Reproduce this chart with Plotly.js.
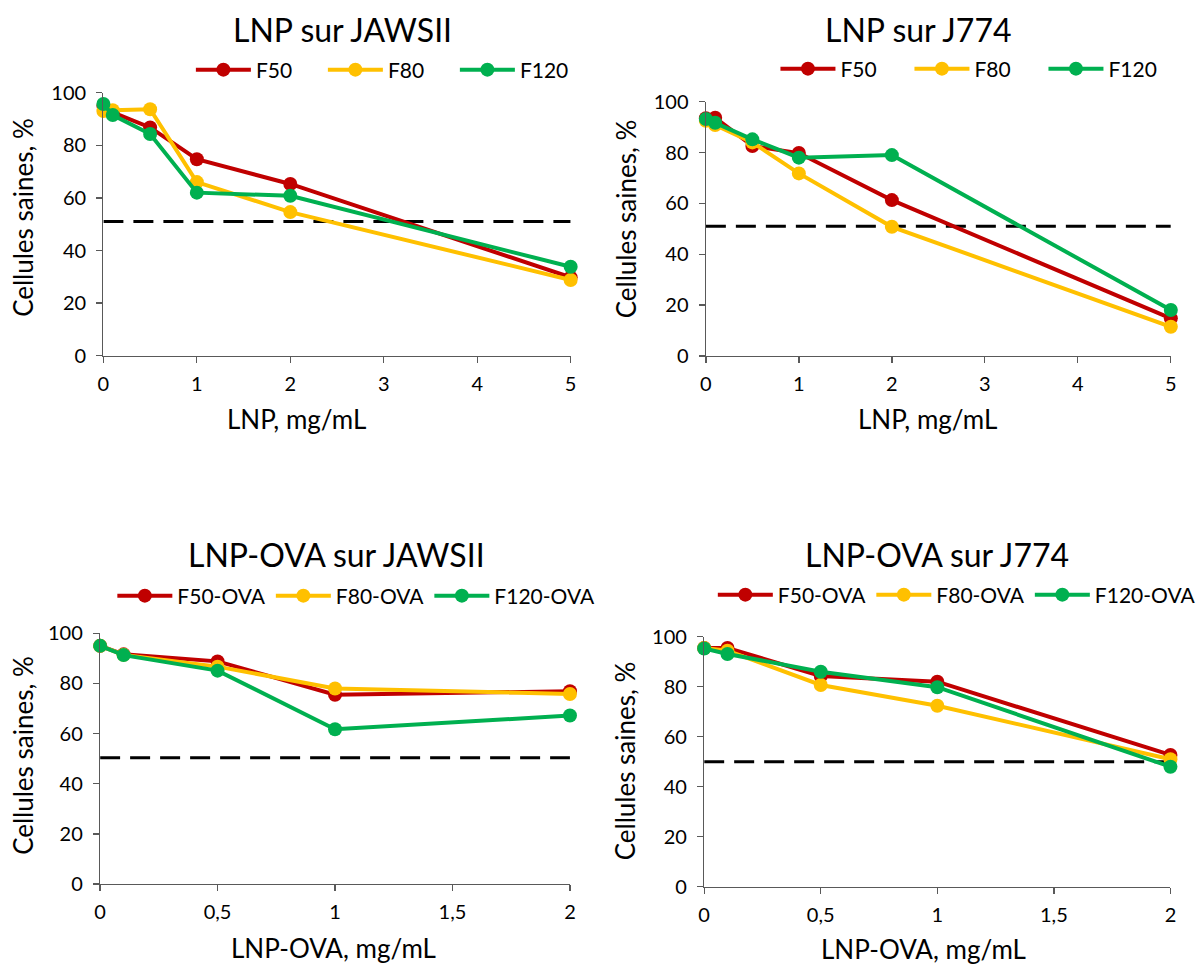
<!DOCTYPE html>
<html>
<head>
<meta charset="utf-8">
<script src="https://cdn.plot.ly/plotly-3.0.1.min.js"></script>
<style>html,body{margin:0;padding:0;background:#fff;}#chart{width:1201px;height:971px;}</style>
</head>
<body>
<div id="chart"></div>
<script>
// ---- Data ----
const xLNP = [0, 0.1, 0.5, 1, 2, 5];
const xOVA = [0, 0.1, 0.5, 1, 2];

const seriesNames = ["F50", "F80", "F120"];
const seriesNamesOVA = ["F50-OVA", "F80-OVA", "F120-OVA"];

// LNP sur JAWSII
const jaws_F50  = [95.0, 92.5, 86.8, 74.7, 65.3, 29.8];
const jaws_F80  = [93.0, 93.3, 93.7, 66.0, 54.6, 28.8];
const jaws_F120 = [95.7, 91.5, 84.3, 62.0, 60.8, 33.8];

// LNP sur J774
const j774_F50  = [93.5, 93.7, 82.6, 79.8, 61.3, 14.8];
const j774_F80  = [92.5, 90.8, 84.0, 71.8, 50.8, 11.5];
const j774_F120 = [93.2, 91.7, 85.2, 78.0, 79.0, 18.1];

// LNP-OVA sur JAWSII
const jawsOva_F50  = [95.0, 91.6, 88.8, 75.5, 76.9];
const jawsOva_F80  = [95.0, 91.4, 86.7, 78.0, 75.8];
const jawsOva_F120 = [95.0, 91.3, 85.1, 61.7, 67.2];

// LNP-OVA sur J774
const j774Ova_F50  = [95.5, 95.5, 84.3, 82.0, 52.7];
const j774Ova_F80  = [95.5, 94.4, 80.7, 72.4, 51.0];
const j774Ova_F120 = [95.3, 93.1, 86.0, 79.8, 48.0];

// 50% threshold lines
const thrX_LNP = [0, 5];
const thrX_OVA = [0, 2];
const thrJaws = [51, 51];
const thrJ774 = [51, 51];
const thrJawsOva = [50.4, 50.4];
const thrJ774Ova = [50, 50];

const titles = ["LNP sur JAWSII", "LNP sur J774", "LNP-OVA sur JAWSII", "LNP-OVA sur J774"];
const xTitles = ["LNP, mg/mL", "LNP, mg/mL", "LNP-OVA, mg/mL", "LNP-OVA, mg/mL"];
const yTitle = "Cellules saines, %";

// ---- Styles ----
const colors = ["#C00000", "#FFC000", "#00B050"];
const FONT = "Lato, 'Open Sans', sans-serif";
const W = 1201, H = 971;
const px = v => v / W;
const py = v => 1 - v / H;

function lineTrace(x, y, name, color, xa, ya, leg) {
  return {
    x: x, y: y, name: name, type: "scatter", mode: "lines+markers",
    xaxis: xa, yaxis: ya, legend: leg,
    line: {color: color, width: 4},
    marker: {color: color, size: 14},
    cliponaxis: false
  };
}
function thrTrace(x, y, xa, ya) {
  return {
    x: x, y: y, type: "scatter", mode: "lines", xaxis: xa, yaxis: ya,
    showlegend: false, hoverinfo: "skip",
    line: {color: "#000000", width: 3, dash: "20px,10px"},
    cliponaxis: false
  };
}

const panels = [
  {x: xLNP, thrX: thrX_LNP, thr: thrJaws, data: [jaws_F50, jaws_F80, jaws_F120], names: seriesNames, xa: "x", ya: "y", leg: "legend"},
  {x: xLNP, thrX: thrX_LNP, thr: thrJ774, data: [j774_F50, j774_F80, j774_F120], names: seriesNames, xa: "x2", ya: "y2", leg: "legend2"},
  {x: xOVA, thrX: thrX_OVA, thr: thrJawsOva, data: [jawsOva_F50, jawsOva_F80, jawsOva_F120], names: seriesNamesOVA, xa: "x3", ya: "y3", leg: "legend3"},
  {x: xOVA, thrX: thrX_OVA, thr: thrJ774Ova, data: [j774Ova_F50, j774Ova_F80, j774Ova_F120], names: seriesNamesOVA, xa: "x4", ya: "y4", leg: "legend4"}
];

const traces = [];
panels.forEach(p => {
  traces.push(thrTrace(p.thrX, p.thr, p.xa, p.ya));
  p.data.forEach((d, i) => traces.push(lineTrace(p.x, d, p.names[i], colors[i], p.xa, p.ya, p.leg)));
});

const axisCol = "#595959";
function xAxis(domain, range, dtick, anchor) {
  return {
    domain: domain, range: range, dtick: dtick, tick0: 0, anchor: anchor,
    showline: true, linecolor: axisCol, linewidth: 1.3,
    ticks: "outside", ticklen: 6, tickcolor: axisCol, tickwidth: 1.3,
    showgrid: false, zeroline: false, fixedrange: true, ticklabelstandoff: 4,
    tickfont: {family: FONT, size: 20, color: "#000"}
  };
}
function yAxis(domain, anchor) {
  return {
    domain: domain, range: [0, 100], dtick: 20, anchor: anchor,
    showline: true, linecolor: axisCol, linewidth: 1.3,
    ticks: "outside", ticklen: 6, tickcolor: axisCol, tickwidth: 1.3,
    showgrid: false, zeroline: false, fixedrange: true, ticklabelstandoff: 6,
    tickfont: {family: FONT, size: 20, color: "#000"}
  };
}
function legendAt(xLeft, yc, ew) {
  const l = {
    orientation: "h", x: px(xLeft), xanchor: "left", y: py(yc), yanchor: "middle",
    itemwidth: 55, font: {family: FONT, size: 21, color: "#000"},
    bgcolor: "rgba(0,0,0,0)", traceorder: "normal", itemclick: false, itemdoubleclick: false
  };
  if (ew) l.entrywidth = ew;
  return l;
}
function ann(text, xc, yc, size, angle) {
  return {text: text, x: px(xc), y: py(yc), xref: "paper", yref: "paper",
    xanchor: "center", yanchor: "middle", showarrow: false, textangle: angle || 0,
    font: {family: FONT, size: size, color: "#000"}};
}

const layout = {
  width: W, height: H, margin: {l: 0, r: 0, t: 0, b: 0},
  paper_bgcolor: "#fff", plot_bgcolor: "#fff",
  separators: ", ",
  font: {family: FONT, color: "#000"},
  xaxis:  xAxis([px(104), px(574)], [0, 5], 1, "y"),
  yaxis:  yAxis([py(355.7), py(92.7)], "x"),
  xaxis2: xAxis([px(710), px(1177.7)], [0, 5], 1, "y2"),
  yaxis2: yAxis([py(356), py(101.7)], "x2"),
  xaxis3: xAxis([px(100.7), px(573.3)], [0, 2], 0.5, "y3"),
  yaxis3: yAxis([py(884), py(633.3)], "x3"),
  xaxis4: xAxis([px(708.3), px(1177.3)], [0, 2], 0.5, "y4"),
  yaxis4: yAxis([py(886.7), py(636.7)], "x4"),
  legend:  legendAt(192, 70, 62),
  legend2: legendAt(780, 69, 64),
  legend3: legendAt(113, 596, 0),
  legend4: legendAt(717, 595, 0),
  annotations: [
    ann(titles[0], 345, 30, 32),
    ann(titles[1], 924, 30, 32),
    ann(titles[2], 338, 554, 32),
    ann(titles[3], 942, 554, 32),
    ann(xTitles[0], 298, 419, 26),
    ann(xTitles[1], 933, 419, 26),
    ann(xTitles[2], 335, 948, 26),
    ann(xTitles[3], 929, 949, 26),
    ann(yTitle, 23, 217, 26, -90),
    ann(yTitle, 630, 219, 26, -90),
    ann(yTitle, 23, 755, 26, -90),
    ann(yTitle, 629, 761, 26, -90)
  ]
};

Plotly.newPlot("chart", traces, layout, {displayModeBar: false, staticPlot: true});
</script>
</body>
</html>
